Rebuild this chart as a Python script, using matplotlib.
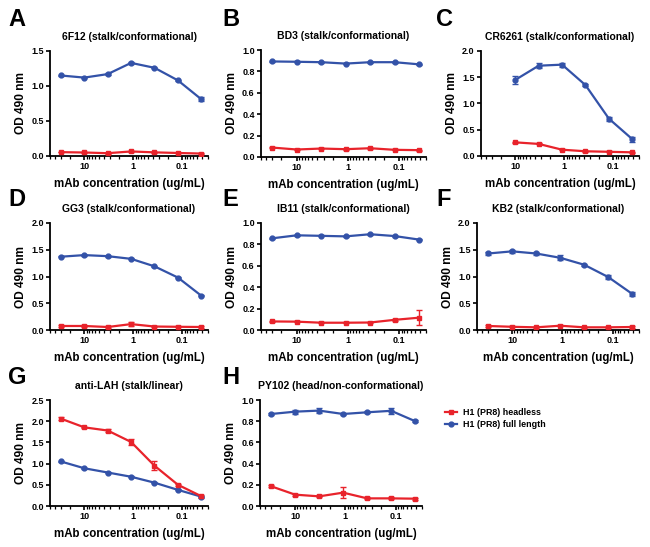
import matplotlib
matplotlib.use("Agg")
import matplotlib.pyplot as plt
from matplotlib.lines import Line2D
from matplotlib.ticker import LogLocator, FixedLocator, FixedFormatter, NullFormatter, MultipleLocator, FormatStrFormatter

plt.rcParams['font.family'] = ['Liberation Sans', 'DejaVu Sans']
plt.rcParams['font.weight'] = 'bold'

conc7 = [30, 10, 3.333, 1.111, 0.370, 0.123, 0.041]
conc6 = [10, 3.333, 1.111, 0.370, 0.123, 0.041]

letters = ['A', 'B', 'C', 'D', 'E', 'F', 'G', 'H']
titles = ['6F12 (stalk/conformational)', 'BD3 (stalk/conformational)',
          'CR6261 (stalk/conformational)', 'GG3 (stalk/conformational)',
          'IB11 (stalk/conformational)', 'KB2 (stalk/conformational)',
          'anti-LAH (stalk/linear)', 'PY102 (head/non-conformational)']

full_A = [1.15, 1.12, 1.17, 1.33, 1.26, 1.08, 0.81]
head_A = [0.055, 0.050, 0.040, 0.065, 0.052, 0.043, 0.035]
full_A_err = [0.01, 0.01, 0.01, 0.01, 0.01, 0.01, 0.03]
head_A_err = [0.005] * 7

full_B = [0.893, 0.890, 0.886, 0.873, 0.886, 0.886, 0.866]
head_B = [0.088, 0.070, 0.079, 0.073, 0.082, 0.067, 0.064]
full_B_err = [0.005] * 7
head_B_err = [0.005] * 7

full_C = [1.45, 1.72, 1.74, 1.35, 0.71, 0.32]
head_C = [0.26, 0.23, 0.12, 0.09, 0.08, 0.07]
full_C_err = [0.07, 0.05, 0.04, 0.02, 0.04, 0.05]
head_C_err = [0.01] * 6

full_D = [1.37, 1.40, 1.38, 1.33, 1.19, 0.98, 0.64]
head_D = [0.075, 0.075, 0.056, 0.11, 0.065, 0.060, 0.056]
full_D_err = [0.01] * 7
head_D_err = [0.01, 0.01, 0.01, 0.04, 0.01, 0.01, 0.01]

full_E = [0.857, 0.885, 0.880, 0.875, 0.895, 0.878, 0.845]
head_E = [0.080, 0.078, 0.068, 0.068, 0.070, 0.095, 0.115]
full_E_err = [0.005] * 7
head_E_err = [0.005, 0.005, 0.005, 0.005, 0.005, 0.01, 0.07]

full_F = [1.43, 1.47, 1.43, 1.35, 1.22, 0.99, 0.675]
head_F = [0.075, 0.060, 0.050, 0.080, 0.050, 0.050, 0.056]
full_F_err = [0.02, 0.03, 0.02, 0.05, 0.02, 0.04, 0.04]
head_F_err = [0.01] * 7

full_G = [1.05, 0.89, 0.79, 0.69, 0.55, 0.38, 0.22]
head_G = [2.06, 1.855, 1.78, 1.51, 0.95, 0.50, 0.23]
full_G_err = [0.01] * 7
head_G_err = [0.03, 0.02, 0.04, 0.07, 0.10, 0.03, 0.03]

full_H = [0.868, 0.890, 0.900, 0.868, 0.884, 0.898, 0.800]
head_H = [0.186, 0.107, 0.091, 0.126, 0.072, 0.072, 0.069]
full_H_err = [0.01, 0.02, 0.025, 0.01, 0.01, 0.03, 0.01]
head_H_err = [0.01, 0.01, 0.01, 0.05, 0.01, 0.01, 0.01]

xs = [conc7, conc7, conc6, conc7, conc7, conc7, conc7, conc7]
fulls = [full_A, full_B, full_C, full_D, full_E, full_F, full_G, full_H]
heads = [head_A, head_B, head_C, head_D, head_E, head_F, head_G, head_H]
full_errs = [full_A_err, full_B_err, full_C_err, full_D_err, full_E_err, full_F_err, full_G_err, full_H_err]
head_errs = [head_A_err, head_B_err, head_C_err, head_D_err, head_E_err, head_F_err, head_G_err, head_H_err]
ymaxs = [1.5, 1.0, 2.0, 2.0, 1.0, 2.0, 2.5, 1.0]
ysteps = [0.5, 0.2, 0.5, 0.5, 0.2, 0.5, 0.5, 0.2]

xtick_vals = [10, 1, 0.1]
xtick_labels = ['10', '1', '0.1']
legend_labels = ['H1 (PR8) headless', 'H1 (PR8) full length']

RED = '#e8232b'
BLUE = '#3352a8'

W, H = 650, 547
fig = plt.figure(figsize=(W / 100, H / 100), dpi=100)

rects = [(50, 51, 208, 156), (261, 50, 426, 157), (481, 51, 639, 156),
         (50, 223, 208, 330), (261, 223, 426, 330), (477, 223, 639, 330),
         (50, 400, 208, 506), (260, 400, 422, 506)]
letter_pos = [(8, 19), (222, 19), (436, 19), (8, 199), (222, 199), (436, 199), (8, 377), (222, 377)]

for i in range(8):
    l, t, r, b = rects[i]
    ax = fig.add_axes([l / W, 1 - b / H, (r - l) / W, (b - t) / H])
    ax.errorbar(xs[i], fulls[i], yerr=full_errs[i], color=BLUE, marker='o', ms=3.5,
                lw=1.6, capsize=2, elinewidth=1, capthick=1, zorder=3)
    ax.errorbar(xs[i], heads[i], yerr=head_errs[i], color=RED, marker='s', ms=3.5,
                lw=1.6, capsize=2, elinewidth=1, capthick=1, zorder=3)
    ax.set_xscale('log')
    ax.set_xlim(50, 0.03)
    ax.set_ylim(0, ymaxs[i])
    ax.yaxis.set_major_locator(MultipleLocator(ysteps[i]))
    ax.yaxis.set_major_formatter(FormatStrFormatter('%.1f'))
    ax.xaxis.set_major_locator(FixedLocator(xtick_vals))
    ax.xaxis.set_major_formatter(FixedFormatter(xtick_labels))
    ax.xaxis.set_minor_locator(LogLocator(base=10, subs=range(2, 10)))
    ax.xaxis.set_minor_formatter(NullFormatter())
    for s in ['top', 'right']:
        ax.spines[s].set_visible(False)
    for s in ['left', 'bottom']:
        ax.spines[s].set_linewidth(1.3)
    ax.tick_params(axis='both', which='major', direction='out', length=3, width=1.2,
                   labelsize=6.5, pad=1.5)
    ax.tick_params(axis='x', which='minor', direction='out', length=2, width=0.9)
    for lab in ax.get_xticklabels() + ax.get_yticklabels():
        lab.set_fontweight('bold')
    ax.set_title(titles[i], fontsize=7.5, fontweight='bold', pad=8)
    ax.set_ylabel('OD 490 nm', fontsize=8.6, fontweight='bold', labelpad=3)
    ax.set_xlabel('mAb concentration (ug/mL)', fontsize=8.3, fontweight='bold', labelpad=5)
    lx, ly = letter_pos[i]
    fig.text(lx / W, 1 - ly / H, letters[i], fontsize=17, fontweight='bold', va='center', ha='left')

handles = [Line2D([], [], color=RED, marker='s', ms=3.5, lw=1.6),
           Line2D([], [], color=BLUE, marker='o', ms=3.5, lw=1.6)]
fig.legend(handles, legend_labels, loc='upper left', bbox_to_anchor=(437 / W, 1 - 400 / H),
           frameon=False, handlelength=1.4, handletextpad=0.6,
           labelspacing=0.35, prop={'weight': 'bold', 'size': 6.4})

fig.savefig('out.png', dpi=100)
